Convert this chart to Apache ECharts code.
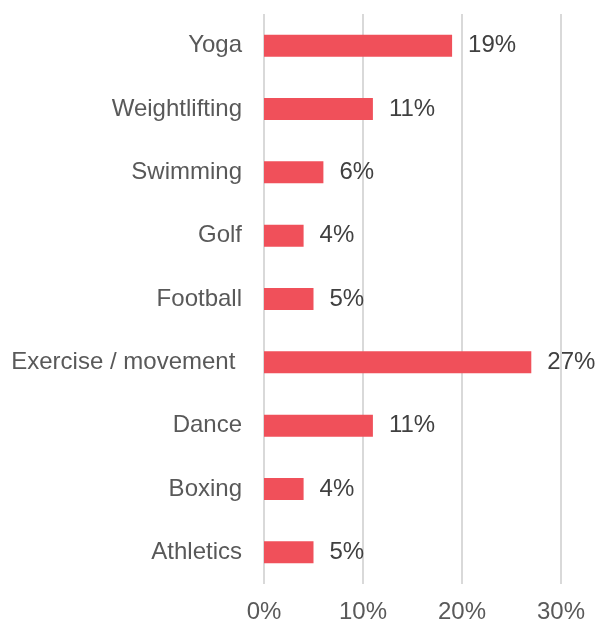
<!DOCTYPE html>
<html>
<head>
<meta charset="utf-8">
<script src="https://cdn.jsdelivr.net/npm/echarts@6/dist/echarts.min.js"></script>
<style>
html, body { margin: 0; padding: 0; background: #fff; }
#chart { width: 599px; height: 621px; }
</style>
</head>
<body>
<div id="chart"></div>
<script>
// top to bottom
var sports = ['Yoga', 'Weightlifting', 'Swimming', 'Golf', 'Football', 'Exercise / movement ', 'Dance', 'Boxing', 'Athletics'];
var shares = [19, 11, 6, 4, 5, 27, 11, 4, 5];
var tickValues = [0, 10, 20, 30];

var chart = echarts.init(document.getElementById('chart'));
var font = "'Liberation Sans', Arial, sans-serif";
var option = {
	animation: false,
	textStyle: { fontFamily: font },
	grid: {
		left: 264,
		right: 38,
		top: 14,
		bottom: 37,
		containLabel: false,
		outerBoundsMode: 'none'
	},
	xAxis: {
		type: 'value',
		min: tickValues[0],
		max: tickValues[tickValues.length - 1],
		interval: 10,
		axisLine: { show: false },
		axisTick: { show: false },
		splitLine: { lineStyle: { color: '#D9D9D9', width: 2 } },
		axisLabel: {
			formatter: '{value}%',
			color: '#595959',
			fontFamily: font,
			fontSize: 24,
			margin: 16
		}
	},
	yAxis: {
		type: 'category',
		inverse: true,
		data: sports,
		axisLine: { show: false },
		axisTick: { show: false },
		axisLabel: {
			color: '#595959',
			fontFamily: font,
			fontSize: 24,
			margin: 22
		}
	},
	series: [
		{
			type: 'bar',
			data: shares,
			barWidth: 22,
			itemStyle: { color: '#F0505A' },
			label: {
				show: true,
				position: 'right',
				distance: 16,
				formatter: '{c}%',
				color: '#404040',
				fontFamily: font,
				fontSize: 24
			}
		}
	]
};
chart.setOption(option);
</script>
</body>
</html>
